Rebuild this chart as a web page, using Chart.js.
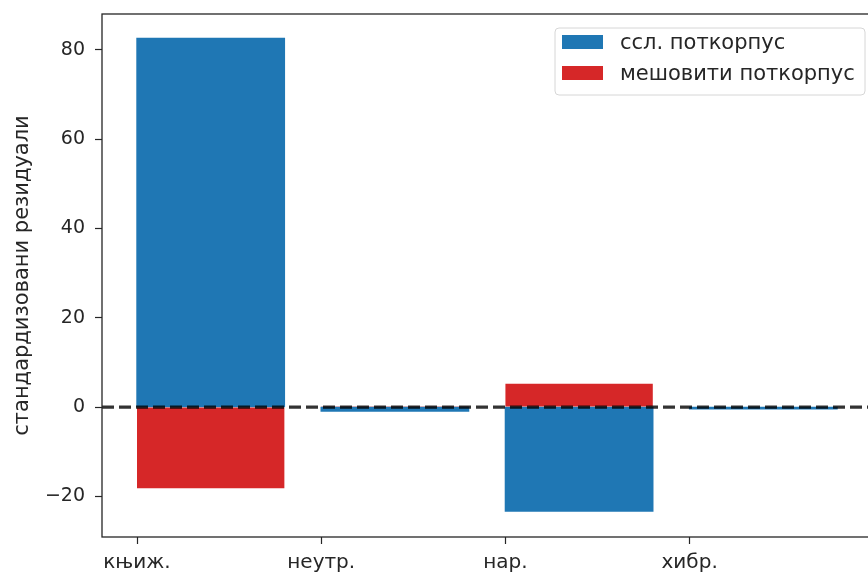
<!DOCTYPE html>
<html>
<head>
<meta charset="utf-8">
<script src="https://cdn.jsdelivr.net/npm/chart.js@4/dist/chart.umd.min.js"></script>
<style>
  html, body { margin: 0; padding: 0; background: #fff; overflow: hidden; }
  #wrap { width: 874px; height: 573px; position: relative; }
</style>
</head>
<body>
<div id="wrap"><canvas id="c"></canvas></div>
<script>
// Register categories and standardized residuals per subcorpus
const categories = ['књиж.', 'неутр.', 'нар.', 'хибр.'];
const sslValues = [82.5, -0.9, -23.3, -0.4];
const mixedValues = [-18.2, 0.2, 5.2, 0.1];
const seriesNames = ['ссл. поткорпус', 'мешовити поткорпус'];
const yTicks = [-20, 0, 20, 40, 60, 80];
const xLimits = [-0.19, 3.99];
const yLimits = [-29.1, 88.0];

const FONT = "'DejaVu Sans', sans-serif";
const TEXT = '#262626';

// bars start at the category position and span 0.8 units to the right
const toPoints = vals => vals.map((v, i) => ({ x: i + 0.4, y: v }));

// frame around the plotting area (all four sides)
const framePlugin = {
  id: 'frame',
  afterDraw(chart) {
    const { ctx, chartArea: a } = chart;
    ctx.save();
    ctx.strokeStyle = '#262626';
    ctx.lineWidth = 1.3;
    ctx.strokeRect(a.left, a.top, a.right - a.left, a.bottom - a.top);
    ctx.restore();
  }
};

// boxed legend in the upper right corner of the plot
const cornerLegend = {
  id: 'cornerLegend',
  afterDraw(chart) {
    const { ctx } = chart;
    const items = chart.data.datasets.filter(d => d.type !== 'line');
    const bx = 555, by = 28, bw = 310, bh = 67, r = 4;
    ctx.save();
    ctx.beginPath();
    ctx.moveTo(bx + r, by);
    ctx.arcTo(bx + bw, by, bx + bw, by + bh, r);
    ctx.arcTo(bx + bw, by + bh, bx, by + bh, r);
    ctx.arcTo(bx, by + bh, bx, by, r);
    ctx.arcTo(bx, by, bx + bw, by, r);
    ctx.closePath();
    ctx.fillStyle = 'rgba(255,255,255,0.8)';
    ctx.fill();
    ctx.strokeStyle = '#d6d6d6';
    ctx.lineWidth = 1;
    ctx.stroke();
    ctx.font = '21px ' + FONT;
    ctx.textBaseline = 'middle';
    ctx.textAlign = 'left';
    items.forEach((d, i) => {
      const y = 35 + i * 31;
      ctx.fillStyle = d.backgroundColor;
      ctx.fillRect(562, y, 41, 14);
      ctx.fillStyle = TEXT;
      ctx.fillText(d.label, 620, y + 9);
    });
    ctx.restore();
  }
};

new Chart(document.getElementById('c'), {
  type: 'bar',
  data: {
    datasets: [
      {
        type: 'line',
        label: 'zero',
        data: [{ x: xLimits[0], y: 0 }, { x: xLimits[1], y: 0 }],
        borderColor: 'rgba(0,0,0,0.8)',
        borderWidth: 3.2,
        borderDash: [12, 5],
        pointRadius: 0,
        fill: false,
        order: 0
      },
      {
        label: seriesNames[0],
        data: toPoints(sslValues),
        backgroundColor: '#1f77b4',
        inflateAmount: 0.7,
        order: 2
      },
      {
        label: seriesNames[1],
        data: toPoints(mixedValues),
        backgroundColor: '#d62728',
        inflateAmount: 0,
        order: 1
      }
    ]
  },
  options: {
    responsive: true,
    maintainAspectRatio: false,
    animation: false,
    layout: { padding: { top: 14, right: 2, left: 0, bottom: 0 } },
    datasets: {
      bar: { grouped: false, barPercentage: 0.8, categoryPercentage: 1.0 }
    },
    plugins: {
      legend: { display: false },
      tooltip: { enabled: false }
    },
    scales: {
      x: {
        type: 'linear',
        offset: false,
        min: xLimits[0],
        max: xLimits[1],
        afterBuildTicks: axis => { axis.ticks = categories.map((c, i) => ({ value: i })); },
        afterFit: axis => { axis.height = 36; axis.paddingLeft = 0; axis.paddingRight = 0; },
        border: { display: false },
        grid: { offset: false, drawOnChartArea: false, drawTicks: true, tickLength: 7, tickColor: '#262626', tickWidth: 1.2 },
        ticks: {
          autoSkip: false,
          maxRotation: 0,
          padding: 7,
          color: TEXT,
          font: { family: FONT, size: 20 },
          callback: v => categories[Math.round(v)] ?? ''
        }
      },
      y: {
        min: yLimits[0],
        max: yLimits[1],
        afterBuildTicks: axis => { axis.ticks = yTicks.map(v => ({ value: v })); },
        afterFit: axis => { axis.width = 102; axis.paddingTop = 0; axis.paddingBottom = 0; },
        border: { display: false },
        grid: { drawOnChartArea: false, drawTicks: true, tickLength: 7, tickColor: '#262626', tickWidth: 1.2 },
        ticks: {
          padding: 10,
          color: TEXT,
          font: { family: FONT, size: 19 },
          callback: v => (v < 0 ? '\u2212' + Math.abs(v) : String(v))
        },
        title: {
          display: true,
          text: 'стандардизовани резидуали',
          color: TEXT,
          font: { family: FONT, size: 21 },
          padding: { top: 10, bottom: 0 }
        }
      }
    }
  },
  plugins: [framePlugin, cornerLegend]
});
</script>
</body>
</html>
